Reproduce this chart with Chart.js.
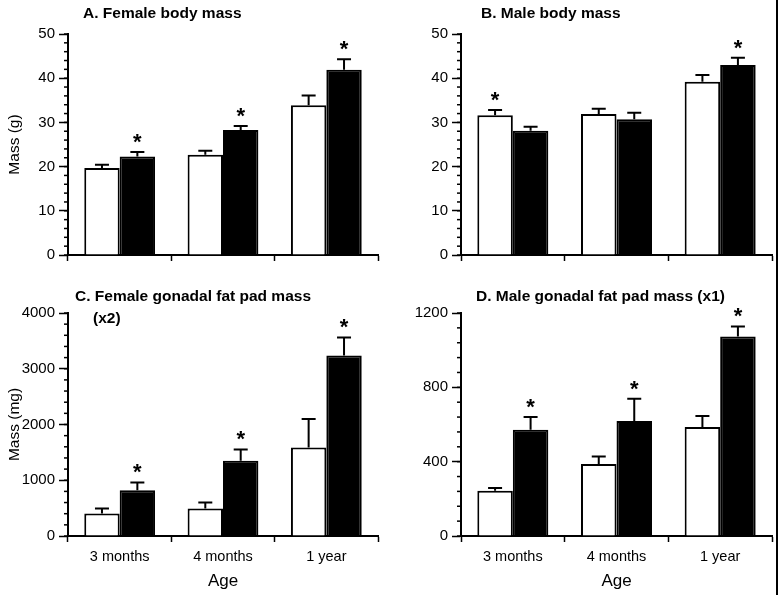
<!DOCTYPE html>
<html lang="en">
<head>
  <meta charset="utf-8">
  <title>Body mass and gonadal fat pad mass by age</title>
  <script src="https://cdn.jsdelivr.net/npm/chart.js"></script>
  <style>
    body {
      margin: 0;
      background: #fff;
      width: 778px;
      height: 595px;
      position: relative;
      overflow: hidden;
    }

    canvas {
      position: absolute;
    }

    /* dark edge down the right side of the scan */
    #edge {
      position: absolute;
      left: 776px;
      top: 0;
      width: 2px;
      height: 595px;
      background: #000;
    }
  </style>
</head>
<body>

<canvas id="chartA" style="left:0;top:0" width="389" height="270"></canvas>
<canvas id="chartB" style="left:393px;top:0" width="385" height="270"></canvas>
<canvas id="chartC" style="left:0;top:270px" width="389" height="325"></canvas>
<canvas id="chartD" style="left:393px;top:270px" width="385" height="325"></canvas>
<div id="edge"></div>

<script>
  const ages = ['3 months', '4 months', '1 year'];

  // A. Female body mass (g)
  const femaleMassOpen = [19.7, 22.7, 33.9];
  const femaleMassOpenErr = [0.7, 0.9, 2.2];
  const femaleMassFilled = [22.3, 28.3, 41.9];
  const femaleMassFilledErr = [1.0, 0.9, 2.4];
  const femaleMassOpenStars = [false, false, false];
  const femaleMassFilledStars = [true, true, true];

  // B. Male body mass (g)
  const maleMassOpen = [31.6, 31.9, 39.2];
  const maleMassOpenErr = [1.2, 1.2, 1.5];
  const maleMassFilled = [28.1, 30.7, 43.0];
  const maleMassFilledErr = [0.9, 1.5, 1.6];
  const maleMassOpenStars = [true, false, false];
  const maleMassFilledStars = [false, false, true];

  // C. Female gonadal fat pad mass (mg)
  const femaleFatOpen = [402, 492, 1589];
  const femaleFatOpenErr = [90, 108, 510];
  const femaleFatFilled = [822, 1349, 3238];
  const femaleFatFilledErr = [138, 204, 324];
  const femaleFatOpenStars = [false, false, false];
  const femaleFatFilledStars = [true, true, true];

  // D. Male gonadal fat pad mass (mg)
  const maleFatOpen = [244, 388, 586];
  const maleFatOpenErr = [14, 40, 60];
  const maleFatFilled = [572, 619, 1074];
  const maleFatFilledErr = [69, 119, 54];
  const maleFatOpenStars = [false, false, false];
  const maleFatFilledStars = [true, true, true];

  const bodyTicks = [0, 10, 20, 30, 40, 50];
  const femaleFatTicks = [0, 1000, 2000, 3000, 4000];
  const maleFatTicks = [0, 400, 800, 1200];

  const FONT = '"Liberation Sans", Arial, Helvetica, sans-serif';

  // upper error bars, asterisks, minor ticks and the panel title
  const extrasPlugin = {
    id: 'extras',
    afterDatasetsDraw(chart, args, opts) {
      const ctx = chart.ctx;
      const yScale = chart.scales.y;
      ctx.save();
      ctx.strokeStyle = '#000';
      ctx.fillStyle = '#000';
      ctx.lineWidth = 2;
      chart.data.datasets.forEach((ds, di) => {
        const meta = chart.getDatasetMeta(di);
        meta.data.forEach((bar, i) => {
          const yTop = yScale.getPixelForValue(ds.data[i] + ds.err[i]);
          const yBar = yScale.getPixelForValue(ds.data[i]);
          ctx.beginPath();
          ctx.moveTo(bar.x, yBar);
          ctx.lineTo(bar.x, yTop);
          ctx.moveTo(bar.x - 7, yTop);
          ctx.lineTo(bar.x + 7, yTop);
          ctx.stroke();
          if (ds.stars[i]) {
            ctx.font = 'bold 22px ' + FONT;
            ctx.textAlign = 'center';
            ctx.textBaseline = 'alphabetic';
            ctx.fillText('*', bar.x, yTop - 3);
          }
        });
      });

      // short minor ticks on the y axis
      const left = chart.chartArea.left;
      ctx.lineWidth = 1.5;
      for (let v = 0; v <= yScale.max; v += opts.minorStep) {
        const py = yScale.getPixelForValue(v);
        ctx.beginPath();
        ctx.moveTo(left - 4, py);
        ctx.lineTo(left, py);
        ctx.stroke();
      }

      ctx.font = 'bold 15.5px ' + FONT;
      ctx.textAlign = 'left';
      ctx.textBaseline = 'middle';
      opts.title.forEach(line => {
        ctx.fillText(line.text, line.x, line.y);
      });
      ctx.restore();
    }
  };

  function makeChart(id, cfg) {
    const bottomRow = cfg.showAge;
    new Chart(document.getElementById(id), {
      type: 'bar',
      data: {
        labels: ages,
        datasets: [
          {
            data: cfg.open, err: cfg.openErr, stars: cfg.openStars,
            backgroundColor: '#fff', borderColor: '#000', borderWidth: 2,
            categoryPercentage: 0.685, barPercentage: 1.0
          },
          {
            data: cfg.filled, err: cfg.filledErr, stars: cfg.filledStars,
            backgroundColor: '#000', borderColor: '#000', borderWidth: 2,
            categoryPercentage: 0.685, barPercentage: 1.0
          }
        ]
      },
      plugins: [extrasPlugin],
      options: {
        responsive: false,
        animation: false,
        events: [],
        layout: {
          padding: { left: 0, right: cfg.padRight, top: cfg.padTop, bottom: 0 }
        },
        plugins: {
          legend: { display: false },
          tooltip: { enabled: false },
          extras: { minorStep: cfg.minorStep, title: cfg.title }
        },
        scales: {
          x: {
            afterFit: scale => { scale.height = bottomRow ? 59 : 15; },
            grid: {
              offset: true,
              drawOnChartArea: false,
              tickLength: 6,
              tickColor: '#000',
              tickWidth: 1.5
            },
            border: { color: '#000', width: 2 },
            ticks: {
              display: bottomRow,
              color: '#000',
              padding: 6,
              font: { family: FONT, size: 14.5 }
            },
            title: {
              display: bottomRow,
              text: 'Age',
              color: '#000',
              padding: { top: 0, bottom: 3 },
              font: { family: FONT, size: 17 }
            }
          },
          y: {
            min: 0,
            max: cfg.ticks[cfg.ticks.length - 1],
            afterFit: scale => { scale.width = 68; },
            afterBuildTicks: scale => {
              scale.ticks = cfg.ticks.map(v => ({ value: v }));
            },
            grid: {
              drawOnChartArea: false,
              tickLength: 9,
              tickColor: '#000',
              tickWidth: 1.5
            },
            border: { color: '#000', width: 2 },
            ticks: {
              color: '#000',
              padding: 4,
              font: { family: FONT, size: 15 },
              callback: value => String(value)
            },
            title: {
              display: !!cfg.yTitle,
              text: cfg.yTitle,
              color: '#000',
              padding: { top: 5, bottom: 0 },
              font: { family: FONT, size: 15.5 }
            }
          }
        }
      }
    });
  }

  makeChart('chartA', {
    open: femaleMassOpen, openErr: femaleMassOpenErr, openStars: femaleMassOpenStars,
    filled: femaleMassFilled, filledErr: femaleMassFilledErr, filledStars: femaleMassFilledStars,
    ticks: bodyTicks, minorStep: 2, yTitle: 'Mass (g)', showAge: false,
    padTop: 34, padRight: 11,
    title: [{ text: 'A. Female body mass', x: 83, y: 14 }]
  });

  makeChart('chartB', {
    open: maleMassOpen, openErr: maleMassOpenErr, openStars: maleMassOpenStars,
    filled: maleMassFilled, filledErr: maleMassFilledErr, filledStars: maleMassFilledStars,
    ticks: bodyTicks, minorStep: 2, yTitle: '', showAge: false,
    padTop: 34, padRight: 6,
    title: [{ text: 'B. Male body mass', x: 88, y: 14 }]
  });

  makeChart('chartC', {
    open: femaleFatOpen, openErr: femaleFatOpenErr, openStars: femaleFatOpenStars,
    filled: femaleFatFilled, filledErr: femaleFatFilledErr, filledStars: femaleFatFilledStars,
    ticks: femaleFatTicks, minorStep: 200, yTitle: 'Mass (mg)', showAge: true,
    padTop: 43, padRight: 11,
    title: [
      { text: 'C. Female gonadal fat pad mass', x: 75, y: 27 },
      { text: '(x2)', x: 93, y: 49 }
    ]
  });

  makeChart('chartD', {
    open: maleFatOpen, openErr: maleFatOpenErr, openStars: maleFatOpenStars,
    filled: maleFatFilled, filledErr: maleFatFilledErr, filledStars: maleFatFilledStars,
    ticks: maleFatTicks, minorStep: 80, yTitle: '', showAge: true,
    padTop: 43, padRight: 6,
    title: [{ text: 'D. Male gonadal fat pad mass (x1)', x: 83, y: 27 }]
  });
</script>

</body>
</html>
